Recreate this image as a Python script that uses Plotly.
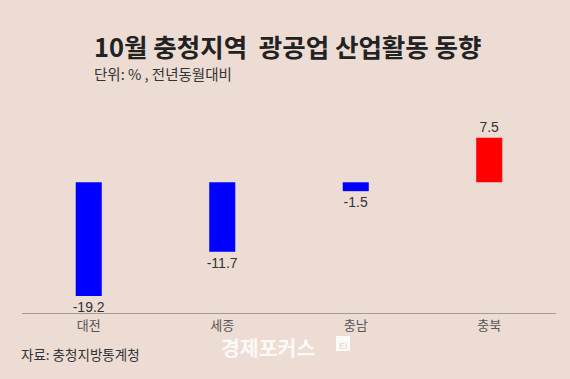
import plotly.graph_objects as go

categories = ["대전", "세종", "충남", "충북"]
values = [-19.2, -11.7, -1.5, 7.5]
bar_colors = ["#0000ff" if v < 0 else "#ff0000" for v in values]
labels = [f"{v:.1f}" for v in values]

bg = "#ecdcd3"
font = "Noto Sans CJK KR"
numfont = "Liberation Sans"

W, H = 570, 379
ML, MR, MT, MB = 22, 14, 123, 66
plot_w = W - ML - MR
plot_h = H - MT - MB


def px(x, y):
    return (x - ML) / plot_w, (H - y - MB) / plot_h


fig = go.Figure(go.Bar(
    x=categories, y=values,
    marker=dict(color=bar_colors, line=dict(width=0)),
    width=0.195,
    text=labels, textposition="outside", constraintext="none",
    textfont=dict(family=numfont, size=14, color="#333333"),
    cliponaxis=False,
))

anns = []
def add(text, x, y, size, color, xanchor="center", family=font, **kw):
    ax, ay = px(x, y)
    d = dict(text=text, x=ax, y=ay, xref="paper", yref="paper",
             showarrow=False, xanchor=xanchor, yanchor="middle",
             font=dict(size=size, color=color, family=family))
    d.update(kw)
    anns.append(d)

add("<b>10월 충청지역  광공업 산업활동 동향</b>", 287, 45, 25.5, "#222222")
add("단위: % , 전년동월대비", 92, 73, 14.5, "#333333", "left")
add("자료: 충청지방통계청", 19, 354, 13.5, "#333333", "left")
add("<b>경제포커스</b>", 219, 347, 20.5, "rgba(255,255,255,0.85)", "left")

x0, y0 = px(336, 351)
x1, y1 = px(350, 336)
shapes = [dict(type="rect", xref="paper", yref="paper", x0=x0, y0=y0, x1=x1, y1=y1,
               fillcolor="rgba(255,255,255,0.85)", line=dict(width=0))]
add("<b>Ei</b>", 343, 346, 9, bg, "center", numfont)

fig.update_layout(
    width=W, height=H,
    paper_bgcolor=bg, plot_bgcolor=bg,
    margin=dict(l=ML, r=MR, t=MT, b=MB),
    showlegend=False,
    font=dict(family=font),
    xaxis=dict(showline=True, linecolor="#a89a90", linewidth=1,
               ticks="", tickfont=dict(size=13, color="#555555"),
               showgrid=False),
    yaxis=dict(range=[-22.05, 10], visible=False, showgrid=False, zeroline=False),
    annotations=anns,
    shapes=shapes,
)

fig.write_html("out.html", config={"displayModeBar": False},
               post_script="document.body.style.margin='0';")
